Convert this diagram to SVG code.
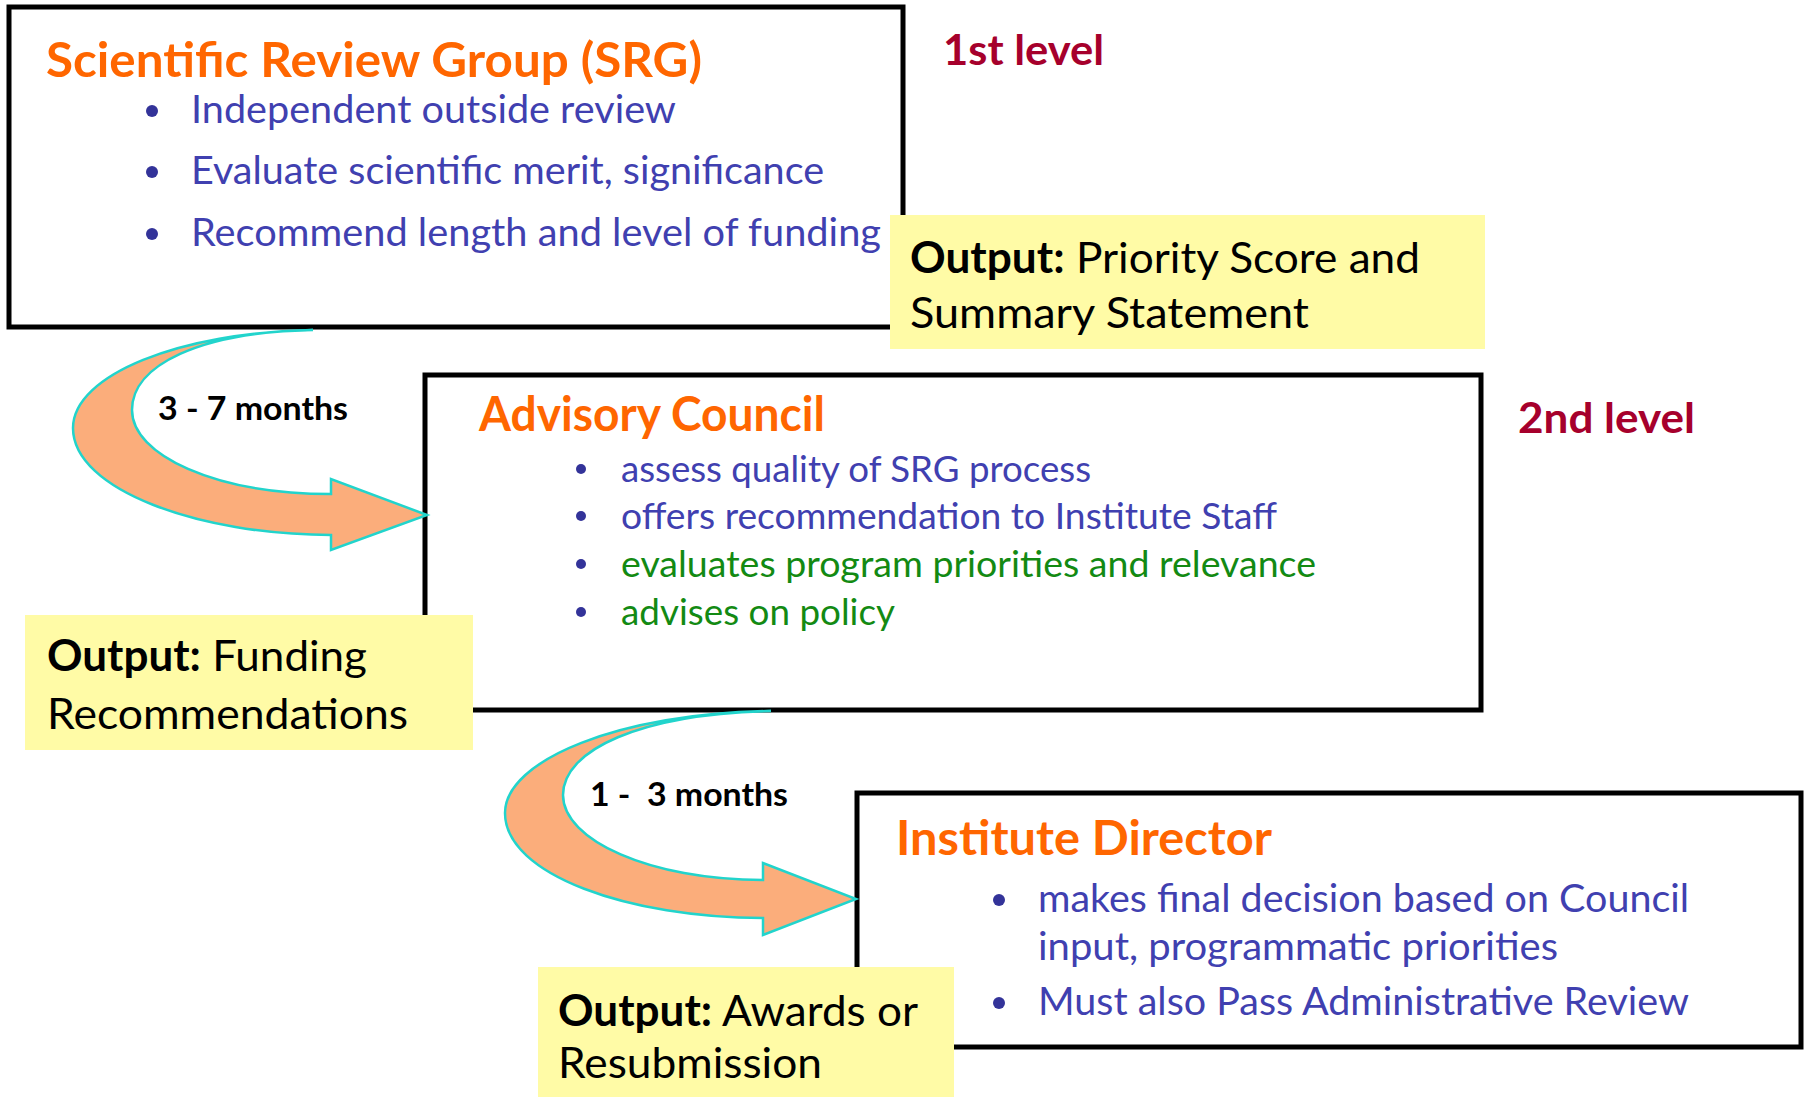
<svg xmlns="http://www.w3.org/2000/svg" width="1806" height="1097" viewBox="0 0 1806 1097">
<style>
text{font-family:Lato,"Open Sans","Liberation Sans",sans-serif;}
.box{fill:#fff;stroke:#000;stroke-width:5;}
.note{fill:#FFFBA6;stroke:none;}
.title{font-weight:bold;fill:#FF6600;font-size:47px;}
.blue{fill:#4040B0;}
.green{fill:#138A13;}
.b38{font-size:38px;}
.b36{font-size:36px;}
.dot{fill:#333399;}
.lvl{font-weight:bold;fill:#A6002C;font-size:42px;}
.out{font-size:43px;fill:#000;}
.bold{font-weight:bold;}
.mon{font-weight:bold;font-size:33px;fill:#000;}
.arrow{fill:#FBAD7B;stroke:#22D4CC;stroke-width:2.5;stroke-linejoin:miter;}
</style>

<g id="srg">
<rect class="box" x="9" y="7" width="894" height="320"/>
<text class="title" x="46" y="77" textLength="656" lengthAdjust="spacingAndGlyphs">Scientific Review Group (SRG)</text>
<circle class="dot" cx="152" cy="111" r="6"/>
<text class="blue b38" x="191" y="123" textLength="485" lengthAdjust="spacingAndGlyphs">Independent outside review</text>
<circle class="dot" cx="152" cy="172" r="6"/>
<text class="blue b38" x="191" y="184" textLength="633" lengthAdjust="spacingAndGlyphs">Evaluate scientific merit, significance</text>
<circle class="dot" cx="152" cy="234" r="6"/>
<text class="blue b38" x="191" y="246" textLength="690" lengthAdjust="spacingAndGlyphs">Recommend length and level of funding</text>
</g>

<g id="level1">
<text class="lvl" x="943" y="65" textLength="161" lengthAdjust="spacingAndGlyphs">1st level</text>
</g>

<g id="output1">
<rect class="note" x="890" y="215" width="595" height="134"/>
<text class="out" x="910" y="273" textLength="510" lengthAdjust="spacingAndGlyphs"><tspan class="bold">Output:</tspan> Priority Score and</text>
<text class="out" x="910" y="328" textLength="399" lengthAdjust="spacingAndGlyphs">Summary Statement</text>
</g>

<g id="advisory">
<rect class="box" x="425" y="375" width="1056" height="335"/>
<text class="title" x="479" y="431" textLength="346" lengthAdjust="spacingAndGlyphs">Advisory Council</text>
<circle class="dot" cx="581" cy="469" r="5"/>
<text class="blue b36" x="621" y="482" textLength="470" lengthAdjust="spacingAndGlyphs">assess quality of SRG process</text>
<circle class="dot" cx="581" cy="516" r="5"/>
<text class="blue b36" x="621" y="529" textLength="656" lengthAdjust="spacingAndGlyphs">offers recommendation to Institute Staff</text>
<circle class="dot" cx="581" cy="564" r="5"/>
<text class="green b36" x="621" y="577" textLength="695" lengthAdjust="spacingAndGlyphs">evaluates program priorities and relevance</text>
<circle class="dot" cx="581" cy="612" r="5"/>
<text class="green b36" x="621" y="625" textLength="274" lengthAdjust="spacingAndGlyphs">advises on policy</text>
</g>

<g id="level2">
<text class="lvl" x="1518" y="433" textLength="177" lengthAdjust="spacingAndGlyphs">2nd level</text>
</g>

<g id="output2">
<rect class="note" x="25" y="615" width="448" height="135"/>
<text class="out" x="47" y="671" textLength="320" lengthAdjust="spacingAndGlyphs"><tspan class="bold">Output:</tspan> Funding</text>
<text class="out" x="47" y="729" textLength="361" lengthAdjust="spacingAndGlyphs">Recommendations</text>
</g>

<g id="director">
<rect class="box" x="857" y="793" width="944" height="254"/>
<text class="title" x="896" y="855" textLength="376" lengthAdjust="spacingAndGlyphs">Institute Director</text>
<circle class="dot" cx="999" cy="900" r="6"/>
<text class="blue b38" x="1038" y="912" textLength="651" lengthAdjust="spacingAndGlyphs">makes final decision based on Council</text>
<text class="blue b38" x="1038" y="960" textLength="520" lengthAdjust="spacingAndGlyphs">input, programmatic priorities</text>
<circle class="dot" cx="999" cy="1003" r="6"/>
<text class="blue b38" x="1038" y="1015" textLength="651" lengthAdjust="spacingAndGlyphs">Must also Pass Administrative Review</text>
</g>

<g id="output3">
<rect class="note" x="538" y="967" width="416" height="130"/>
<text class="out" x="558" y="1026" textLength="360" lengthAdjust="spacingAndGlyphs"><tspan class="bold">Output:</tspan> Awards or</text>
<text class="out" x="558" y="1078" textLength="264" lengthAdjust="spacingAndGlyphs">Resubmission</text>
</g>

<g id="connectors">
<path class="arrow" d="M313,330 C180,332 73,375 73,428 C73,490 200,535 331,535 L331,550 L427,515 L331,479 L331,494 C215,494 132,455 132,410 C132,365 200,332 313,330 Z"/>
<text class="mon" x="158" y="420" textLength="190" lengthAdjust="spacingAndGlyphs">3 - 7 months</text>
<path class="arrow" d="M771,711 C620,713 505,760 505,813 C505,875 630,918 763,918 L763,935 L856,899 L763,863 L763,880 C650,880 563,840 563,795 C563,750 640,714 771,711 Z"/>
<text class="mon" x="590" y="806" textLength="198" lengthAdjust="spacingAndGlyphs" xml:space="preserve">1 -  3 months</text>
</g>
</svg>
